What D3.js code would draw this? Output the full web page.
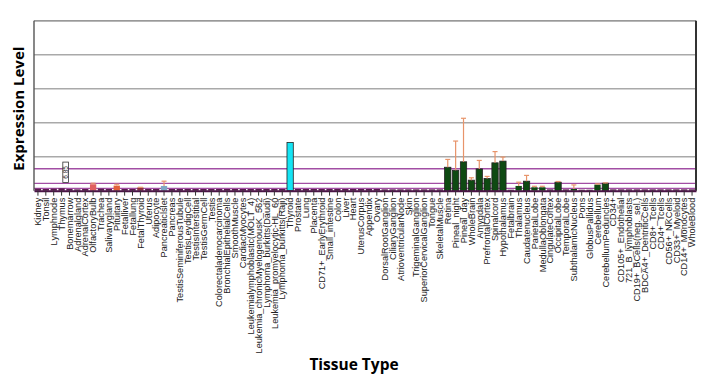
<!DOCTYPE html>
<html>
<head>
<meta charset="utf-8">
<script src="https://cdn.jsdelivr.net/npm/d3@7"></script>
<style>
  body { margin: 0; background: #fff; }
  svg { display: block; }
</style>
</head>
<body>
<div id="chart"></div>
<script>

// Tissue names, in plot order
var tissues = ["Kidney","Tonsil","Lymphnode","Thymus","Bonemarrow","Adrenalgland","AdrenalCortex",
  "OlfactoryBulb","Trachea","Salivarygland","Pituitary","Fetalliver","Fetallung","FetalThyroid",
  "Uterus","Adipocyte","Pancreaticlslet","Pancreas","TestisSeminiferousTubule","TestisLeydigCell",
  "TestisInterstitial","TestisGermCell","Testis","Colorectaladenocarcinoma","BronchialEpithelialCells",
  "SmoothMuscle","CardiacMyocytes","Leukemialymphoblastic(MOLT_4)","Leukemia_chronicMyelogenousK_562",
  "Lymphoma_burkitts(Daudi)","Leukemia_promyelocytic-HL_60","Lymphoma_burkitts(Raji)","Thyroid",
  "Prostate","Lung","Placenta","CD71+_EarlyErythroid","Small_intestine","Colon","Liver","Heart",
  "UterusCorpus","Appendix","Ovary","DorsalRootGanglion","CiliaryGanglion","AtrioventricularNode",
  "Skin","TrigeminalGanglion","SuperiorCervicalGanglion","Tongue","SkeletalMuscle","Retina",
  "Pineal_night","Pineal_day","WholeBrain","Amygdala","PrefrontalCortex","Spinalcord","Hypothalamus",
  "Fetalbrain","Thalamus","Caudatenucleus","ParietalLobe","MedullaOblongata","CingulateCortex",
  "OccipitalLobe","TemporalLobe","SubthalamicNucleus","Pons","GlobusPallidus","Cerebellum",
  "CerebellumPeduncles","CD34+","CD105+_Endothelial","721_B_lymphoblasts","CD19+_BCells(neg._sel.)",
  "BDCA4+_DentriticCells","CD8+_Tcells","CD4+_Tcells","CD56+_NKCells","CD33+_Myeloid",
  "CD14+_Monocytes","WholeBlood"];

// Expression values
var values = [6,5,6,7,5,4,5, 19,6,5,15,5,5,9, 5,5,14,5,5,5, 5,5,5,5,5, 5,5,5,5, 5,5,5,142,
  5,5,5,5,5,5,5,5, 5,5,5,4,4,4, 4,4,4,4,4,69, 60,85,31,64,36,82,87, 3,14,28,10,10,4,
  25,4,5,3,3,18, 22,4,4,4,4, 4,4,4,4,4, 4,4];

// Top of the error bar, null where none is drawn
var errTop = [null,null,null,null,null,null,null, 22,null,null,19,null,null,10, null,null,28,null,null,null,
  null,null,null,null,null, null,null,null,null, null,null,null,null,
  null,null,null,null,null,null,null,null, null,null,null,null,null,null, null,null,null,null,null,92,
  146,213,38,89,42,115,99, null,25,45,13,13,null,
  27,null,17,null,null,20, 23,null,null,null,null, null,null,null,null,null, null,null];

// Bar colours, special ones by tissue
var defaultColor = "#5a1d4e";
var specialColors = {
  "OlfactoryBulb": "#e06060",
  "Pituitary": "#e2603a",
  "FetalThyroid": "#8e3040",
  "Pancreaticlslet": "#7fa6c4",
  "Thyroid": "#14e4f4"
};
var greenTissues = ["Retina","Pineal_night","Pineal_day","WholeBrain","Amygdala","PrefrontalCortex",
  "Spinalcord","Hypothalamus","Thalamus","Caudatenucleus","ParietalLobe","MedullaOblongata",
  "OccipitalLobe","SubthalamicNucleus","Cerebellum","CerebellumPeduncles"];

// Reference lines (median, 3x, 10x)
var medianLabel = "6.85";
var refLines = [6.85, 21.5, 64.5];
var gridValues = [100, 200, 300, 400, 500];

var w = 705, h = 387;
var margin = {top: 20.7, right: 9, bottom: 196.3, left: 34};
var width = w - margin.left - margin.right;
var height = h - margin.top - margin.bottom;

var svg = d3.select("#chart").append("svg")
    .attr("width", w)
    .attr("height", h);

var g = svg.append("g")
    .attr("transform", "translate(" + margin.left + "," + margin.top + ")");

var x = d3.scaleBand().domain(tissues).range([0, width]).paddingInner(0.2).paddingOuter(0.1);
var y = d3.scaleLinear().domain([0, 500]).range([height, 0]);

// Gridlines
g.selectAll(".grid")
    .data(gridValues)
    .enter()
    .append("line")
    .attr("x1", 0).attr("x2", width)
    .attr("y1", function(d) { return y(d); })
    .attr("y2", function(d) { return y(d); })
    .attr("stroke", "#a9a9a9")
    .attr("stroke-width", 1.4);

// Purple reference lines
g.selectAll(".ref")
    .data(refLines)
    .enter()
    .append("line")
    .attr("x1", 0).attr("x2", width)
    .attr("y1", function(d) { return y(d); })
    .attr("y2", function(d) { return y(d); })
    .attr("stroke", "#a24ea4")
    .attr("stroke-width", 1.4);

// Bars
var rows = tissues.map(function(t, i) { return {t: t, v: values[i], e: errTop[i]}; });

g.selectAll(".bar")
    .data(rows)
    .enter()
    .append("rect")
    .attr("x", function(d) { return x(d.t); })
    .attr("y", function(d) { return y(d.v); })
    .attr("width", x.bandwidth())
    .attr("height", function(d) { return height - y(d.v); })
    .attr("fill", function(d) {
        if (specialColors[d.t]) return specialColors[d.t];
        if (greenTissues.indexOf(d.t) >= 0) return "#0e4a12";
        return defaultColor;
    })
    .attr("stroke", function(d) { return d.v > 20 ? "#222" : "none"; })
    .attr("stroke-width", 0.8);

// Error bars
var errRows = rows.filter(function(d) { return d.e != null; });
var eb = g.selectAll(".err")
    .data(errRows)
    .enter()
    .append("g")
    .attr("stroke", "#e8946a")
    .attr("stroke-width", 1.2);

eb.append("line")
    .attr("x1", function(d) { return x(d.t) + x.bandwidth() / 2; })
    .attr("x2", function(d) { return x(d.t) + x.bandwidth() / 2; })
    .attr("y1", function(d) { return y(d.v); })
    .attr("y2", function(d) { return y(d.e); });

eb.append("line")
    .attr("x1", function(d) { return x(d.t) + x.bandwidth() / 2 - 2.5; })
    .attr("x2", function(d) { return x(d.t) + x.bandwidth() / 2 + 2.5; })
    .attr("y1", function(d) { return y(d.e); })
    .attr("y2", function(d) { return y(d.e); });

// Frame
g.append("line").attr("x1", 0).attr("x2", width).attr("y1", 0).attr("y2", 0)
    .attr("stroke", "#999").attr("stroke-width", 1.4);
g.append("line").attr("x1", 0).attr("x2", 0).attr("y1", 0).attr("y2", height)
    .attr("stroke", "#555").attr("stroke-width", 1.4);
g.append("line").attr("x1", width).attr("x2", width).attr("y1", 0).attr("y2", height)
    .attr("stroke", "#333").attr("stroke-width", 2);

// X axis with rotated tissue labels
var xAxis = d3.axisBottom(x).tickSize(5).tickSizeOuter(0);
var ax = g.append("g")
    .attr("transform", "translate(0," + height + ")")
    .call(xAxis);
ax.select(".domain").attr("stroke", "#4a1446").attr("stroke-width", 2);
ax.selectAll(".tick line").attr("stroke", "#333").attr("stroke-width", 1);
ax.selectAll(".tick text")
    .attr("transform", "rotate(-90)")
    .attr("x", -7)
    .attr("y", 0)
    .attr("dy", "0.35em")
    .style("text-anchor", "end")
    .style("font-family", "Liberation Sans, Arial, sans-serif")
    .style("font-size", "9.2px")
    .attr("fill", "#222");

// Median label box
var lx = x("Bonemarrow") - 3.5;
var lb = g.append("g")
    .attr("transform", "translate(" + lx + "," + (y(refLines[1]) - 0.8) + ")");
lb.append("rect")
    .attr("x", 0).attr("y", -20.5)
    .attr("width", 5.6).attr("height", 20.5)
    .attr("fill", "#fff")
    .attr("stroke", "#333")
    .attr("stroke-width", 0.8);
lb.append("text")
    .attr("transform", "translate(2.8,-10.25) rotate(-90)")
    .attr("text-anchor", "middle")
    .attr("dy", "0.35em")
    .style("font-family", "Liberation Sans, Arial, sans-serif")
    .style("font-size", "6.5px")
    .attr("fill", "#222")
    .text(medianLabel);

// Axis titles
svg.append("text")
    .attr("transform", "translate(19," + (margin.top + 88) + ") rotate(-90)")
    .attr("text-anchor", "middle")
    .attr("dy", "0.35em")
    .style("font-family", "Open Sans, Liberation Sans, sans-serif")
    .style("font-weight", "bold")
    .style("font-size", "15px")
    .text("Expression Level");

svg.append("text")
    .attr("x", 354)
    .attr("y", 370)
    .attr("text-anchor", "middle")
    .style("font-family", "Open Sans, Liberation Sans, sans-serif")
    .style("font-weight", "bold")
    .style("font-size", "15.5px")
    .text("Tissue Type");

</script>
</body>
</html>
